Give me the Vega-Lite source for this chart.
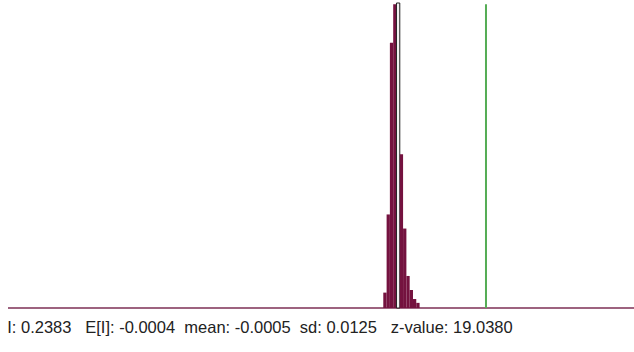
{
  "$schema": "https://vega.github.io/schema/vega-lite/v6.json",
  "autosize": "none",
  "width": 626,
  "height": 305,
  "padding": {"left": 8, "top": 3, "right": 0, "bottom": 44},
  "background": "white",
  "config": {"view": {"stroke": null}},
  "title": {
    "text": "I: 0.2383\u00a0\u00a0\u00a0E[I]: -0.0004\u00a0\u00a0mean: -0.0005\u00a0\u00a0sd: 0.0125\u00a0\u00a0\u00a0z-value: 19.0380",
    "orient": "bottom",
    "anchor": "start",
    "offset": 11,
    "font": "Liberation Sans",
    "fontSize": 16.5,
    "fontWeight": "normal",
    "color": "#222222"
  },
  "datasets": {
    "bins": [
      {"start": -0.0435, "end": -0.0344, "count": 12},
      {"start": -0.0344, "end": -0.0254, "count": 73},
      {"start": -0.0254, "end": -0.0163, "count": 207},
      {"start": -0.0163, "end": -0.0073, "count": 237},
      {"start": -0.0073, "end": 0.0018, "count": 238},
      {"start": 0.0018, "end": 0.0108, "count": 120},
      {"start": 0.0108, "end": 0.0199, "count": 62},
      {"start": 0.0199, "end": 0.0289, "count": 25},
      {"start": 0.0289, "end": 0.038, "count": 14},
      {"start": 0.038, "end": 0.047, "count": 7},
      {"start": 0.047, "end": 0.0561, "count": 4}
    ],
    "stats": [
      {"I": 0.2383, "zero": 0, "top": 237}
    ]
  },
  "data": {"name": "stats"},
  "layer": [
    {
      "mark": {"type": "rule", "color": "#7d2f55", "strokeWidth": 1.5},
      "encoding": {
        "y": {"field": "zero", "type": "quantitative", "scale": {"domain": [0, 238], "nice": false}, "axis": null}
      }
    },
    {
      "data": {"name": "bins"},
      "mark": {"type": "rect", "strokeWidth": 1},
      "encoding": {
        "x": {"field": "start", "type": "quantitative", "scale": {"domain": [-1.0732, 0.6444], "nice": false, "zero": false}, "axis": null},
        "x2": {"field": "end"},
        "y": {"field": "count", "type": "quantitative", "scale": {"domain": [0, 238], "nice": false}, "axis": null},
        "y2": {"datum": 0},
        "fill": {"condition": {"test": "datum.start > -0.008 && datum.start < -0.006", "value": "#f2f2f2"}, "value": "#74123f"},
        "stroke": {"condition": {"test": "datum.start > -0.008 && datum.start < -0.006", "value": "#222222"}, "value": "transparent"}
      }
    },
    {
      "mark": {"type": "rule", "color": "#55ad55", "strokeWidth": 2},
      "encoding": {
        "x": {"field": "I", "type": "quantitative", "scale": {"domain": [-1.0732, 0.6444], "nice": false, "zero": false}, "axis": null},
        "y": {"field": "zero", "type": "quantitative", "axis": null},
        "y2": {"field": "top"}
      }
    }
  ]
}
